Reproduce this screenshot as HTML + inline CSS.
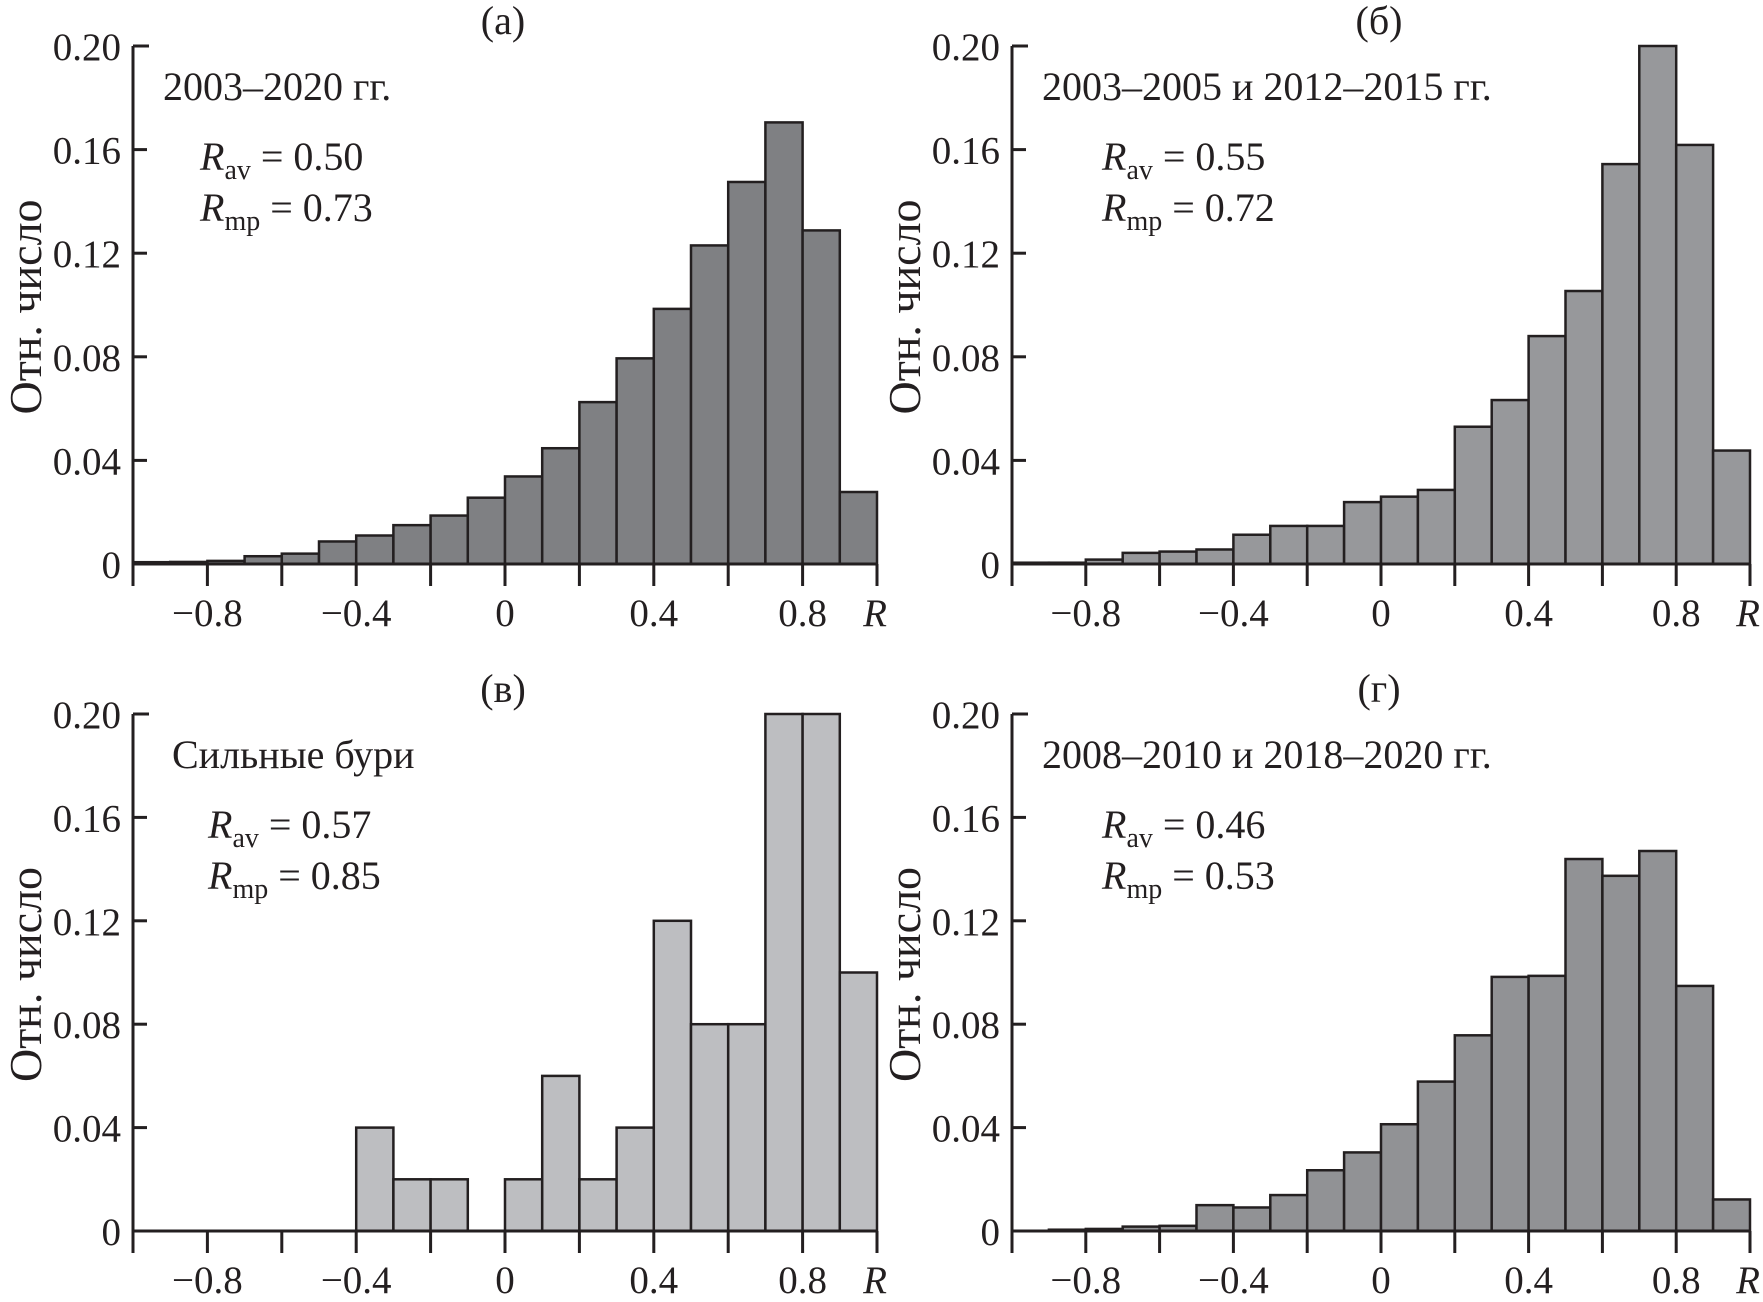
<!DOCTYPE html>
<html><head><meta charset="utf-8"><style>
html,body{margin:0;padding:0;background:#fff;}
svg{display:block;font-family:"Liberation Serif",serif;}
</style></head><body>
<svg id="c" width="1763" height="1302" viewBox="0 0 1763 1302" xmlns="http://www.w3.org/2000/svg"></svg>
<script>
const binEdgesStart = -1;
const binWidth = 0.1;
const seriesA = [0.0007,0.0008,0.0012,0.003,0.004,0.0087,0.011,0.015,0.0187,0.0256,0.0338,0.0447,0.0625,0.0794,0.0985,0.123,0.1475,0.1705,0.1288,0.0278];
const seriesB = [0.0005,0.0005,0.0017,0.0043,0.0048,0.0056,0.0113,0.0147,0.0147,0.0239,0.026,0.0286,0.053,0.0633,0.088,0.1054,0.1544,0.2,0.1618,0.0438];
const seriesC = [0,0,0,0,0,0,0.04,0.02,0.02,0,0.02,0.06,0.02,0.04,0.12,0.08,0.08,0.2,0.2,0.1];
const seriesD = [0,0.0005,0.0008,0.0017,0.002,0.01,0.0091,0.0139,0.0235,0.0304,0.0413,0.0578,0.0757,0.0983,0.0987,0.1439,0.1374,0.147,0.0948,0.0122];
const yTicks = [0,0.04,0.08,0.12,0.16,0.20];
const yTickLabels = ["0","0.04","0.08","0.12","0.16","0.20"];
const xTicks = [-1,-0.8,-0.6,-0.4,-0.2,0,0.2,0.4,0.6,0.8,1];
const xLabelVals = [-0.8,-0.4,0,0.4,0.8];
const xLabelText = ["\u22120.8","\u22120.4","0","0.4","0.8"];
const panelTitles = ["(а)","(б)","(в)","(г)"];
const periodLabels = ["2003–2020 гг.","2003–2005 и 2012–2015 гг.","Сильные бури","2008–2010 и 2018–2020 гг."];
const ravVals = ["0.50","0.55","0.57","0.46"];
const rmpVals = ["0.73","0.72","0.85","0.53"];

const NS="http://www.w3.org/2000/svg";
const svg=document.getElementById('c');
function mk(tag,attrs,parent){const e=document.createElementNS(NS,tag);for(const k in attrs)e.setAttribute(k,attrs[k]);(parent||svg).appendChild(e);return e;}
const FS=39;
const panels=[
 {x0:133,x1:877,yB:564,yT:46,data:seriesA,fill:"#7f8083",key:"a"},
 {x0:1012,x1:1750,yB:564,yT:46,data:seriesB,fill:"#97989b",key:"b"},
 {x0:133,x1:877,yB:1231,yT:714,data:seriesC,fill:"#bdbec1",key:"c"},
 {x0:1012,x1:1750,yB:1231,yT:714,data:seriesD,fill:"#919295",key:"d"}
];
panels.forEach((p,i)=>{
 const g=mk('g',{});
 
 
 const sx=v=>p.x0+(v+1)/2*(p.x1-p.x0);
 const sy=v=>p.yB-v/0.2*(p.yB-p.yT);
 p.data.forEach((v,j)=>{
  if(v<=0)return;
  const a=binEdgesStart+j*binWidth,b=a+binWidth;
  const r=mk('rect',{x:sx(a),y:sy(v),width:sx(b)-sx(a),height:p.yB-sy(v),fill:p.fill,stroke:"#231f20","stroke-width":2.5},g);
  
  
 });
 const ax=mk('path',{d:`M${p.x0},${p.yT}H${p.x0+16}M${p.x0},${p.yT}V${p.yB+22}M${p.x0},${p.yB}H${p.x1}`,stroke:"#231f20","stroke-width":3,fill:"none"},g);
 
 
 yTicks.forEach((t,k)=>{
  mk('line',{x1:p.x0,x2:p.x0+14,y1:sy(t),y2:sy(t),stroke:"#231f20","stroke-width":3},g);
  const tx=mk('text',{x:p.x0-12,y:sy(t)+14,"text-anchor":"end","font-size":FS,fill:"#231f20"},g);
  tx.textContent=yTickLabels[k];
  
  
 });
 xTicks.forEach(t=>{mk('line',{x1:sx(t),x2:sx(t),y1:p.yB,y2:p.yB+22,stroke:"#231f20","stroke-width":3},g);});
 xLabelVals.forEach((t,k)=>{
  const tx=mk('text',{x:sx(t),y:p.yB+62,"text-anchor":"middle","font-size":FS,fill:"#231f20"},g);
  tx.textContent=xLabelText[k];
  
  
 });
 const rl=mk('text',{x:sx(1)-2,y:p.yB+62,"text-anchor":"middle","font-size":FS,"font-style":"italic",fill:"#231f20"},g);
 rl.textContent="R";
 
 
 const yt=mk('text',{x:0,y:0,"text-anchor":"middle","font-size":46,fill:"#231f20",transform:`translate(${p.x0-92},${(p.yB+p.yT)/2+2}) rotate(-90)`},g);
 yt.textContent="Отн. число";
 
 
 const pt=mk('text',{x:(p.x0+p.x1)/2-2,y:p.yT-12,"text-anchor":"middle","font-size":40,fill:"#231f20"},g);
 pt.textContent=panelTitles[i];
 
 
 const per=mk('text',{x:p.x0+(i==2?39:30),y:p.yT+54,"font-size":40,fill:"#231f20"},g);
 per.textContent=periodLabels[i];
 
 
 const rx=p.x0+(i==2?75:(i==0?67:90));
 const t1=mk('text',{x:rx,y:p.yT+124,"font-size":40,fill:"#231f20"},g);
 t1.innerHTML=`<tspan font-style="italic">R</tspan><tspan font-size="28" dy="9">av</tspan><tspan dy="-9"> = ${ravVals[i]}</tspan>`;
 
 
 const t2=mk('text',{x:rx,y:p.yT+175,"font-size":40,fill:"#231f20"},g);
 t2.innerHTML=`<tspan font-style="italic">R</tspan><tspan font-size="28" dy="9">mp</tspan><tspan dy="-9"> = ${rmpVals[i]}</tspan>`;
 
 
});
</script>
</body></html>
